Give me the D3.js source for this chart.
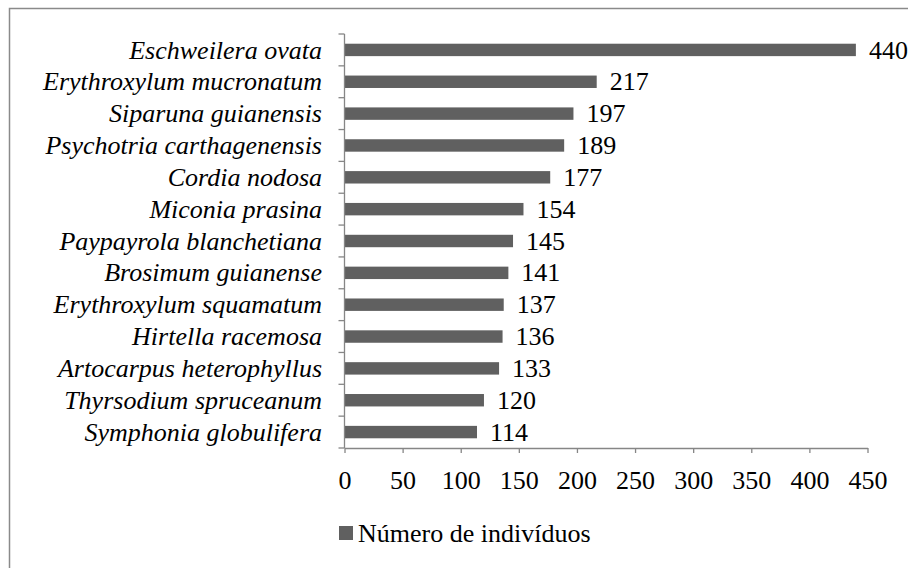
<!DOCTYPE html>
<html>
<head>
<meta charset="utf-8">
<script src="https://cdn.jsdelivr.net/npm/d3@7"></script>
<style>
  body { margin: 0; background: #fff; }
  svg text { font-family: "Liberation Serif", "Times New Roman", "DejaVu Serif", serif; fill: #000; }
</style>
</head>
<body>
<svg id="chart" width="908" height="568"></svg>
<script>
// species, top to bottom
const species = [
    "Eschweilera ovata", "Erythroxylum mucronatum", "Siparuna guianensis",
    "Psychotria carthagenensis", "Cordia nodosa", "Miconia prasina",
    "Paypayrola blanchetiana", "Brosimum guianense", "Erythroxylum squamatum",
    "Hirtella racemosa", "Artocarpus heterophyllus", "Thyrsodium spruceanum",
    "Symphonia globulifera"
];
const individuos = [440, 217, 197, 189, 177, 154, 145, 141, 137, 136, 133, 120, 114];
const xTicks = [0, 50, 100, 150, 200, 250, 300, 350, 400, 450];
const legendLabel = "Número de indivíduos";

const svg = d3.select('#chart');
const barColor = '#606060';
const axisColor = '#868686';
const serif = '"Liberation Serif", "Times New Roman", serif';

// outer frame, cut at right/bottom like the reference
svg.append('rect')
    .attr('x', 9.5).attr('y', 8.5)
    .attr('width', 960).attr('height', 620)
    .attr('fill', 'none')
    .attr('stroke', '#8a8a8a')
    .attr('stroke-width', 1.5);

const plotTop = 34, plotBottom = 448;
let x = d3.scaleLinear().domain([0, 450]).range([344.5, 867.5]);
let y = d3.scaleBand().domain(species).range([plotTop, plotBottom]).paddingInner(0.61).paddingOuter(0.305);

// bars
svg.append('g').selectAll('rect')
    .data(species)
    .join('rect')
    .attr('x', x(0))
    .attr('y', d => y(d))
    .attr('width', (d, i) => x(individuos[i]) - x(0))
    .attr('height', y.bandwidth())
    .attr('fill', barColor);

// value labels
svg.append('g').selectAll('text')
    .data(species)
    .join('text')
    .attr('x', (d, i) => x(individuos[i]) + 13)
    .attr('y', d => y(d) + y.bandwidth() / 2)
    .attr('dy', '0.33em')
    .style('font-family', serif)
    .style('font-size', '26px')
    .text((d, i) => individuos[i]);

// y axis: line + ticks between categories
let yAxis = svg.append('g');
yAxis.append('line')
    .attr('x1', x(0)).attr('x2', x(0))
    .attr('y1', plotTop).attr('y2', plotBottom)
    .attr('stroke', axisColor).attr('stroke-width', 1.3);
let step = (plotBottom - plotTop) / species.length;
yAxis.selectAll('line.tk')
    .data(d3.range(species.length + 1))
    .join('line')
    .classed('tk', true)
    .attr('x1', x(0) - 6).attr('x2', x(0))
    .attr('y1', i => plotTop + i * step)
    .attr('y2', i => plotTop + i * step)
    .attr('stroke', axisColor).attr('stroke-width', 1.3);
yAxis.selectAll('text')
    .data(species)
    .join('text')
    .attr('x', 322)
    .attr('y', d => y(d) + y.bandwidth() / 2)
    .attr('dy', '0.33em')
    .attr('text-anchor', 'end')
    .style('font-family', serif)
    .style('font-size', '26px')
    .style('font-style', 'italic')
    .text(d => d);

// x axis
let xAxis = svg.append('g').attr('transform', `translate(0,${plotBottom})`)
    .call(d3.axisBottom(x).tickValues(xTicks).tickSize(5).tickPadding(18).tickSizeOuter(0));
xAxis.attr('font-family', null).attr('font-size', null);
xAxis.select('.domain').attr('stroke', axisColor).attr('stroke-width', 1.3);
xAxis.selectAll('.tick line').attr('stroke', axisColor).attr('stroke-width', 1.3);
xAxis.selectAll('.tick text')
    .style('font-family', serif)
    .style('font-size', '26px')
    .attr('fill', '#000');

// legend
let legend = svg.append('g').attr('transform', 'translate(339,526)');
legend.append('rect')
    .attr('width', 14).attr('height', 14)
    .attr('fill', barColor);
legend.append('text')
    .attr('x', 19).attr('y', 16)
    .style('font-family', serif)
    .style('font-size', '26px')
    .text(legendLabel);
</script>
</body>
</html>
